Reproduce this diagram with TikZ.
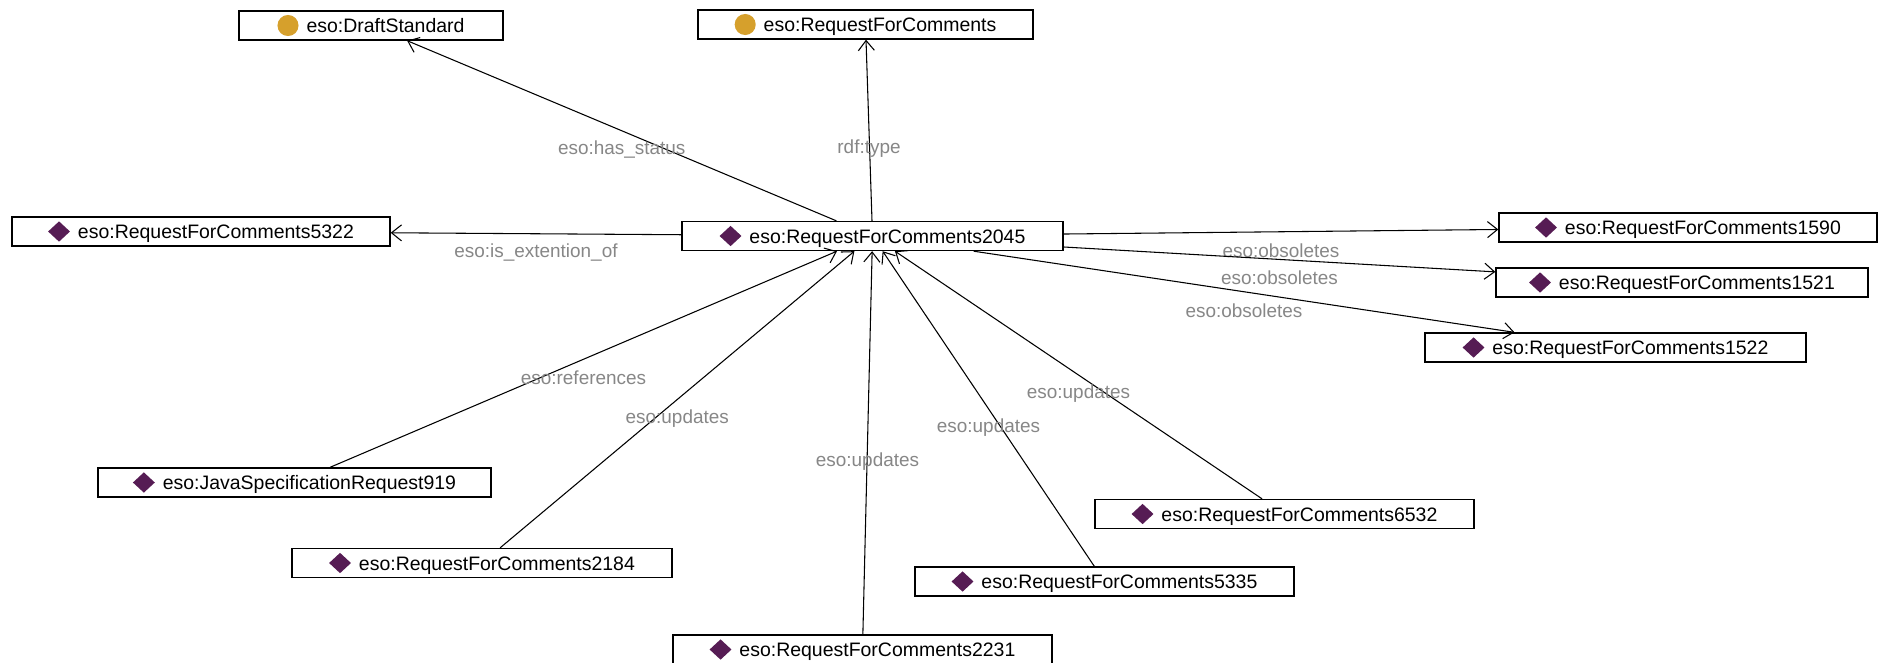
\documentclass[tikz,border=0pt]{standalone}
\usepackage{fontspec}
\newfontfamily\lsans{Liberation Sans}
\usetikzlibrary{arrows.meta}
\definecolor{clsorange}{RGB}{214,160,44}
\definecolor{indpurple}{RGB}{86,28,84}
\definecolor{lblgray}{RGB}{135,135,135}
\newcommand\clsicon{\tikz[x=1pt,y=1pt,baseline={(0pt,-5.25pt)}]\fill[clsorange] (0,0) circle[radius=7.9pt];\hspace{6pt}}
\newcommand\indicon{\tikz[x=1pt,y=1pt,baseline={(0pt,-5.25pt)}]\fill[indpurple] (-8.2pt,0pt) -- (0pt,7.6pt) -- (8.2pt,0pt) -- (0pt,-7.6pt) -- cycle;\hspace{6pt}}
\begin{document}
\begin{tikzpicture}[x=0.75pt,y=-0.75pt,
  ent/.style={draw=black, line width=1pt, fill=white, inner sep=0pt, minimum height=21.75pt,
    text height=10.5pt, text depth=0pt, font=\lsans\fontsize{14.6}{17}\selectfont},
  lbl/.style={text=lblgray, font=\lsans\fontsize{14.2}{17}\selectfont, midway, yshift=-14pt, inner sep=0pt},
  rel/.style={draw=black, line width=0.8pt, -{Straight Barb[length=7.5pt,width=12pt,line width=0.8pt]}}
]
\fill[white] (0,0) rectangle (1884,662);
\useasboundingbox (0,0) rectangle (1884,662);

\node[ent, minimum width=198pt]    (ds)    at (371,25.5)   {\clsicon eso:DraftStandard};
\node[ent, minimum width=251.25pt] (rfc)   at (865.5,24.5) {\clsicon eso:RequestForComments};
\node[ent, minimum width=285.75pt] (c)     at (872.5,236)  {\indicon eso:RequestForComments2045};
\node[ent, minimum width=283.5pt]  (r5322) at (201,231.5)  {\indicon eso:RequestForComments5322};
\node[ent, minimum width=283.5pt]  (r1590) at (1688,227.5) {\indicon eso:RequestForComments1590};
\node[ent, minimum width=279pt]    (r1521) at (1682,282.5) {\indicon eso:RequestForComments1521};
\node[ent, minimum width=285.75pt] (r1522) at (1615.5,347.5) {\indicon eso:RequestForComments1522};
\node[ent, minimum width=294.75pt] (java)  at (294.5,482.5) {\indicon eso:JavaSpecificationRequest919};
\node[ent, minimum width=285pt]    (r2184) at (482,563)    {\indicon eso:RequestForComments2184};
\node[ent, minimum width=284.25pt] (r2231) at (862.5,649.5) {\indicon eso:RequestForComments2231};
\node[ent, minimum width=284.25pt] (r5335) at (1104.5,581.5) {\indicon eso:RequestForComments5335};
\node[ent, minimum width=284.25pt] (r6532) at (1284.5,514) {\indicon eso:RequestForComments6532};

\draw[rel] (c) -- node[lbl]{eso:has\_status} (ds);
\draw[rel] (c) -- node[lbl]{rdf:type} (rfc);
\draw[rel] (c) -- node[lbl]{eso:is\_extention\_of} (r5322);
\draw[rel] (c) -- node[lbl]{eso:obsoletes} (r1590);
\draw[rel] (c) -- node[lbl]{eso:obsoletes} (r1521);
\draw[rel] (c) -- node[lbl]{eso:obsoletes} (r1522);
\draw[rel] (java)  -- node[lbl]{eso:references} (c);
\draw[rel] (r2184) -- node[lbl]{eso:updates} (c);
\draw[rel] (r2231) -- node[lbl]{eso:updates} (c);
\draw[rel] (r5335) -- node[lbl]{eso:updates} (c);
\draw[rel] (r6532) -- node[lbl]{eso:updates} (c);
\end{tikzpicture}
\end{document}
